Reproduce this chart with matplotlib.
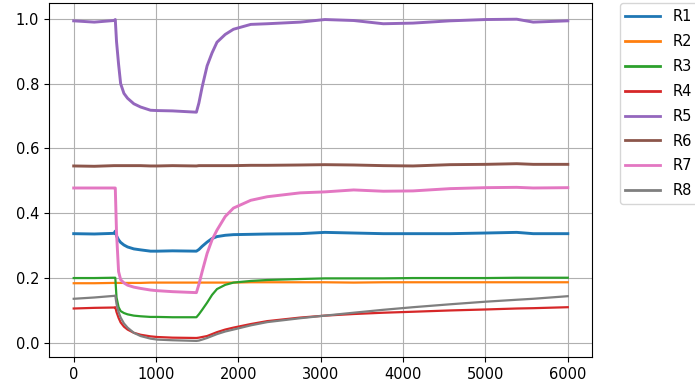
import matplotlib
matplotlib.use("Agg")
import matplotlib.pyplot as plt

t = [0, 250, 490, 505, 520, 545, 570, 610, 654, 730, 812, 933, 1015, 1200, 1490,
     1520, 1560, 1620, 1680, 1740, 1840, 1940, 2150, 2350, 2750, 3050, 3400, 3760,
     4120, 4570, 5000, 5380, 5580, 6000]

R1 = [0.337, 0.336, 0.338, 0.345, 0.330, 0.318, 0.310, 0.302, 0.296, 0.290, 0.287, 0.283,
      0.283, 0.284, 0.283, 0.288, 0.298, 0.311, 0.322, 0.328, 0.332, 0.334, 0.335, 0.336,
      0.337, 0.341, 0.339, 0.337, 0.337, 0.337, 0.339, 0.341, 0.337, 0.337]
R2 = [0.184, 0.184, 0.185, 0.185, 0.185, 0.185, 0.185, 0.185, 0.185, 0.185, 0.185, 0.186,
      0.186, 0.186, 0.186, 0.186, 0.186, 0.186, 0.186, 0.186, 0.186, 0.186, 0.187, 0.187,
      0.187, 0.187, 0.186, 0.187, 0.187, 0.187, 0.187, 0.187, 0.187, 0.187]
R3 = [0.200, 0.200, 0.201, 0.201, 0.140, 0.110, 0.098, 0.092, 0.088, 0.084, 0.082, 0.080,
      0.080, 0.079, 0.079, 0.088, 0.102, 0.124, 0.148, 0.166, 0.179, 0.186, 0.191, 0.194,
      0.197, 0.199, 0.199, 0.199, 0.200, 0.200, 0.200, 0.201, 0.201, 0.201]
R4 = [0.106, 0.108, 0.109, 0.110, 0.095, 0.077, 0.063, 0.050, 0.041, 0.031, 0.025, 0.020,
      0.018, 0.016, 0.015, 0.016, 0.018, 0.021, 0.027, 0.033, 0.041, 0.047, 0.058, 0.067,
      0.078, 0.084, 0.089, 0.093, 0.096, 0.100, 0.103, 0.106, 0.107, 0.110]
R5 = [0.994, 0.990, 0.995, 0.998, 0.930, 0.860, 0.800, 0.770, 0.755, 0.738, 0.728, 0.718,
      0.717, 0.716, 0.712, 0.740, 0.790, 0.855, 0.895, 0.928, 0.952, 0.968, 0.983, 0.985,
      0.990, 0.998, 0.995, 0.985, 0.987, 0.994, 0.998, 0.999, 0.990, 0.994]
R6 = [0.546, 0.545, 0.547, 0.547, 0.547, 0.547, 0.547, 0.547, 0.547, 0.547, 0.547, 0.546,
      0.546, 0.547, 0.546, 0.547, 0.547, 0.547, 0.547, 0.547, 0.547, 0.547, 0.548, 0.548,
      0.549, 0.550, 0.549, 0.547, 0.546, 0.550, 0.551, 0.553, 0.551, 0.551]
R7 = [0.478, 0.478, 0.478, 0.478, 0.340, 0.220, 0.195, 0.185, 0.178, 0.172, 0.168, 0.163,
      0.161, 0.158, 0.155, 0.180, 0.220, 0.276, 0.318, 0.348, 0.390, 0.416, 0.440, 0.451,
      0.463, 0.466, 0.472, 0.468, 0.469, 0.476, 0.479, 0.480, 0.478, 0.479]
R8 = [0.136, 0.140, 0.145, 0.146, 0.120, 0.095, 0.078, 0.060, 0.047, 0.031, 0.021, 0.013,
      0.010, 0.008, 0.006, 0.007, 0.010, 0.015, 0.021, 0.027, 0.035, 0.041, 0.054, 0.064,
      0.076, 0.084, 0.093, 0.102, 0.110, 0.119, 0.127, 0.133, 0.136, 0.144]

series = {"R1": R1, "R2": R2, "R3": R3, "R4": R4, "R5": R5, "R6": R6, "R7": R7, "R8": R8}
noisy = {"R1", "R5", "R6", "R7"}

fig = plt.figure(figsize=(6.95, 3.91), dpi=100)
ax = fig.add_axes([0.0705, 0.087, 0.782, 0.905])
for name, vals in series.items():
    ax.plot(t, vals, label=name, linewidth=2.1 if name in noisy else 1.6)
ax.grid(True, color="#b0b0b0", linewidth=0.8)
ax.tick_params(labelsize=10.5)
leg = ax.legend(loc="upper left", bbox_to_anchor=(1.05, 1.0), borderaxespad=0,
                fontsize=10.5, labelspacing=0.68, handlelength=2.4)
for line in leg.get_lines():
    line.set_linewidth(2.0)
fig.savefig("out.png", dpi=100)
